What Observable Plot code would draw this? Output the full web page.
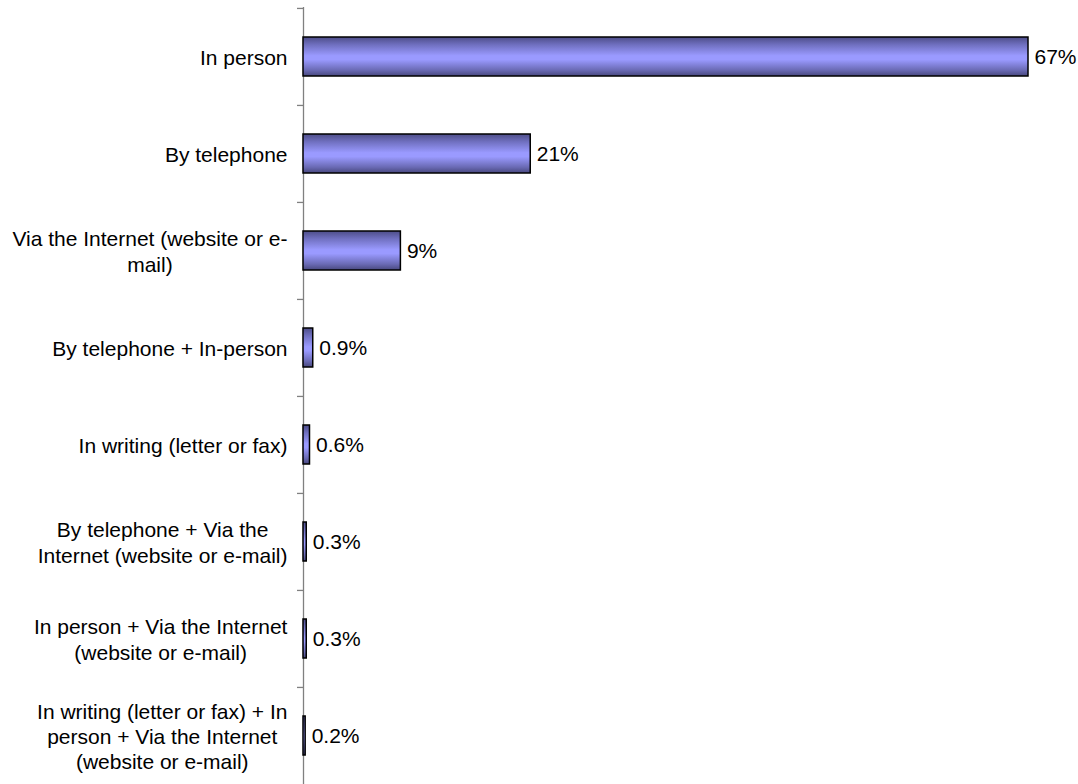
<!DOCTYPE html>
<html>
<head>
<meta charset="utf-8">
<script src="https://cdn.jsdelivr.net/npm/d3@7"></script>
<script src="https://cdn.jsdelivr.net/npm/@observablehq/plot@0.6"></script>
<style>
  html, body { margin: 0; padding: 0; background: #fff; }
  #chart svg { display: block; }
</style>
</head>
<body>
<div id="chart"></div>
<script>
const categories = [
  "In person",
  "By telephone",
  "Via the Internet (website or e-\nmail)",
  "By telephone + In-person",
  "In writing (letter or fax)",
  "By telephone + Via the\nInternet (website or e-mail)",
  "In person + Via the Internet\n(website or e-mail)",
  "In writing (letter or fax) + In\nperson + Via the Internet\n(website or e-mail)"
];
const values = [67, 21, 9, 0.9, 0.6, 0.3, 0.3, 0.2];
const valueLabels = ["67%", "21%", "9%", "0.9%", "0.6%", "0.3%", "0.3%", "0.2%"];

const data = categories.map((c, i) => ({category: c, value: values[i], label: valueLabels[i]}));

const H = 784, MT = 7, MB = 0;
const step = (H - MT - MB) / categories.length;
const font = "'Liberation Sans', Arial, Helvetica, sans-serif";

const chart = Plot.plot({
  width: 1078,
  height: H,
  marginTop: MT,
  marginBottom: MB,
  marginLeft: 303,
  marginRight: 50,
  style: {fontFamily: font, background: "#fff", overflow: "visible"},
  x: {domain: [0, 67], axis: null},
  y: {domain: categories, axis: null, padding: 0},
  marks: [
    Plot.ruleX([0], {stroke: "#808080", strokeWidth: 1.3}),
    Plot.ruleY(categories, {y: d => d, x1: 0, x2: 0, insetLeft: -6, dy: -step / 2, stroke: "#808080", strokeWidth: 1.3}),
    Plot.barX(data, {x: "value", y: "category", insetTop: 29, insetBottom: 29,
      fill: "url(#barGrad)", stroke: "#000", strokeWidth: 1.5}),
    Plot.text(data, {x: "value", y: "category", text: "label", textAnchor: "start", dx: 6,
      fontSize: 21, fill: "#000"}),
    Plot.text(data, {x: 0, y: "category", text: "category", textAnchor: "end", dx: -16,
      lineAnchor: "middle", lineHeight: 1.2, fontSize: 21, fill: "#000", className: "catlab"})
  ]
});

const defs = document.createElementNS("http://www.w3.org/2000/svg", "defs");
defs.innerHTML = `<linearGradient id="barGrad" x1="0" y1="0" x2="0" y2="1">
  <stop offset="0" stop-color="#4d4d88"/>
  <stop offset="0.2" stop-color="#7070c0"/>
  <stop offset="0.48" stop-color="#9a9aff"/>
  <stop offset="0.58" stop-color="#9a9aff"/>
  <stop offset="0.85" stop-color="#6a6ab4"/>
  <stop offset="1" stop-color="#48487e"/>
</linearGradient>`;
chart.insertBefore(defs, chart.firstChild);
document.getElementById("chart").appendChild(chart);

// center multi-line category labels within their own block, right edge fixed
d3.select(chart).selectAll("g.catlab text").each(function() {
  const t = this;
  if (t.querySelectorAll("tspan").length > 1) {
    const w = t.getBBox().width;
    t.setAttribute("text-anchor", "middle");
    const tr = t.getAttribute("transform") || "";
    t.setAttribute("transform", tr + ` translate(${-w / 2},0)`);
  }
});
</script>
</body>
</html>
